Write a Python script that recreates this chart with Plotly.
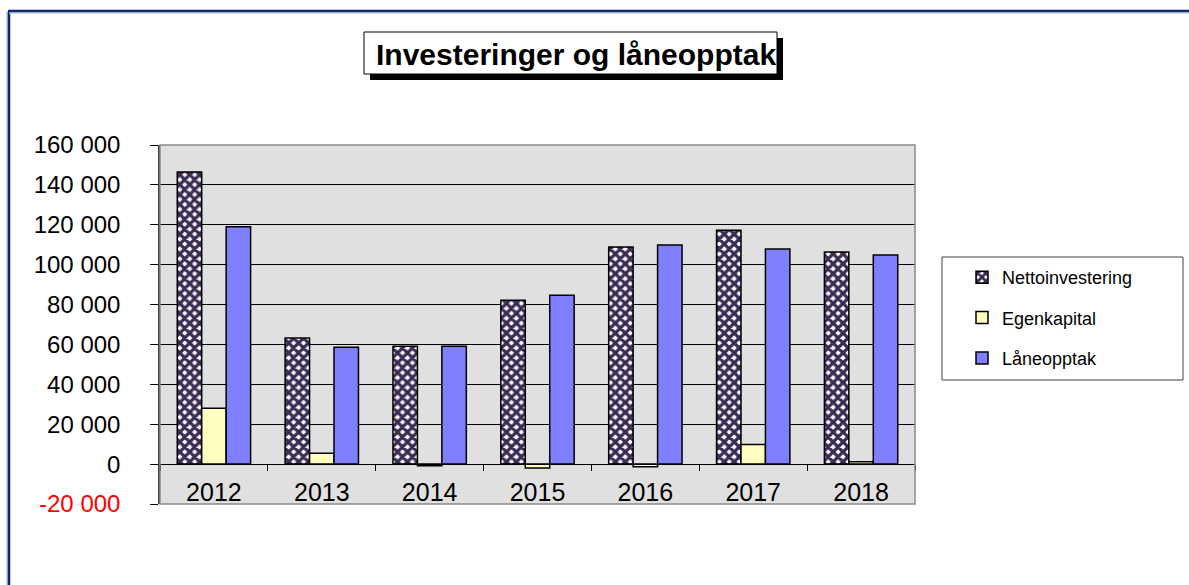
import plotly.graph_objects as go

# ---- data ----
years = ["2012", "2013", "2014", "2015", "2016", "2017", "2018"]
netto = [146500, 63200, 59100, 82200, 108800, 117300, 106300]
egen = [28000, 5500, -800, -2000, -1300, 9800, 1200]
lane = [119000, 58600, 59100, 84700, 109800, 107800, 104800]

series_names = ["Nettoinvestering", "Egenkapital", "Låneopptak"]
y_tickvals = [-20000, 0, 20000, 40000, 60000, 80000, 100000, 120000, 140000, 160000]
y_ticktext = ["<span style='color:#ff0000'>-20 000</span>", "0", "20 000", "40 000", "60 000",
              "80 000", "100 000", "120 000", "140 000", "160 000"]
title_text = "Investeringer og låneopptak"

# ---- geometry (pixels) ----
W, H = 1189, 585
L, R, T, B = 160, 915, 145, 504
PW, PH = R - L, B - T


def px(x):
    return (x - L) / PW


def py(y):
    return (B - y) / PH


FONT = "Liberation Sans, Arial, sans-serif"

fig = go.Figure()
fig.add_trace(go.Bar(
    x=years, y=netto, name=series_names[0], legendgroup="a",
    marker=dict(color="white", line=dict(color="black", width=1.5),
                pattern=dict(shape="x", fgcolor="#3a2b55", bgcolor="white",
                             size=7, solidity=0.72, fillmode="replace")),
))
fig.add_trace(go.Bar(
    x=years, y=egen, name=series_names[1], legendgroup="b",
    marker=dict(color="#ffffc0", line=dict(color="black", width=1.5)),
))
fig.add_trace(go.Bar(
    x=years, y=lane, name=series_names[2], legendgroup="c",
    marker=dict(color="#8080ff", line=dict(color="black", width=1.5)),
))

shapes = []
# outer chart border (dark blue) with soft shadow
shapes.append(dict(type="line", xref="paper", yref="paper",
                   x0=px(7), y0=py(600), x1=px(7), y1=py(12),
                   line=dict(color="#c8ccd8", width=2), layer="below"))
shapes.append(dict(type="line", xref="paper", yref="paper",
                   x0=px(9), y0=py(600), x1=px(9), y1=py(11),
                   line=dict(color="#0b2a6f", width=2.5), layer="below"))
shapes.append(dict(type="line", xref="paper", yref="paper",
                   x0=px(9), y0=py(13), x1=px(1200), y1=py(13),
                   line=dict(color="#c8ccd8", width=1.5), layer="below"))
shapes.append(dict(type="line", xref="paper", yref="paper",
                   x0=px(8), y0=py(11), x1=px(1200), y1=py(11),
                   line=dict(color="#0b2a6f", width=2.5), layer="below"))
# plot frame
shapes.append(dict(type="rect", xref="paper", yref="paper", x0=0, y0=0, x1=1, y1=1,
                   line=dict(color="#8c8c8c", width=1.5), layer="above"))
# title box with drop shadow
shapes.append(dict(type="rect", xref="paper", yref="paper",
                   x0=px(370), y0=py(80), x1=px(783), y1=py(38),
                   fillcolor="black", line=dict(width=0), layer="above"))
shapes.append(dict(type="rect", xref="paper", yref="paper",
                   x0=px(364), y0=py(74), x1=px(777), y1=py(32),
                   fillcolor="white", line=dict(color="black", width=1), layer="above"))
# legend box
shapes.append(dict(type="rect", xref="paper", yref="paper",
                   x0=px(942), y0=py(380), x1=px(1183), y1=py(257),
                   fillcolor="white", line=dict(color="#404040", width=1), layer="below"))

annotations = [dict(text=title_text, xref="paper", yref="paper",
                    x=px(576), y=py(54), xanchor="center", yanchor="middle",
                    showarrow=False,
                    font=dict(family=FONT, size=30, color="black", weight="bold"))]

fig.update_layout(
    width=W, height=H,
    margin=dict(l=L, r=W - R, t=T, b=H - B, pad=0),
    paper_bgcolor="white",
    plot_bgcolor="#e0e0e0",
    barmode="group", bargap=0.32, bargroupgap=0,
    font=dict(family=FONT, color="black"),
    showlegend=True,
    legend=dict(x=px(962), y=py(259), xanchor="left", yanchor="top",
                bgcolor="rgba(0,0,0,0)", borderwidth=0,
                font=dict(family=FONT, size=18, color="black"),
                tracegroupgap=14, itemwidth=30),
    shapes=shapes,
    annotations=annotations,
)

fig.update_yaxes(range=[-20000, 160000], tickvals=y_tickvals, ticktext=y_ticktext,
                 showgrid=True, gridcolor="black", gridwidth=1,
                 zeroline=True, zerolinecolor="black", zerolinewidth=1,
                 showline=True, linecolor="#404040", linewidth=1.5,
                 ticks="outside", ticklen=8, tickcolor="black",
                 tickfont=dict(family=FONT, size=24, color="black"),
                 ticklabelstandoff=25)
fig.update_xaxes(anchor="free", position=20000 / 180000,
                 tickson="boundaries", ticks="outside", ticklen=6, tickcolor="black",
                 showline=True, linecolor="black", linewidth=1,
                 showgrid=False,
                 tickfont=dict(family=FONT, size=25, color="black"),
                 ticklabelstandoff=6)

fig.write_html("out.html",
               config={"displayModeBar": False},
               post_script="document.body.style.margin='0';document.body.style.overflow='hidden';")
